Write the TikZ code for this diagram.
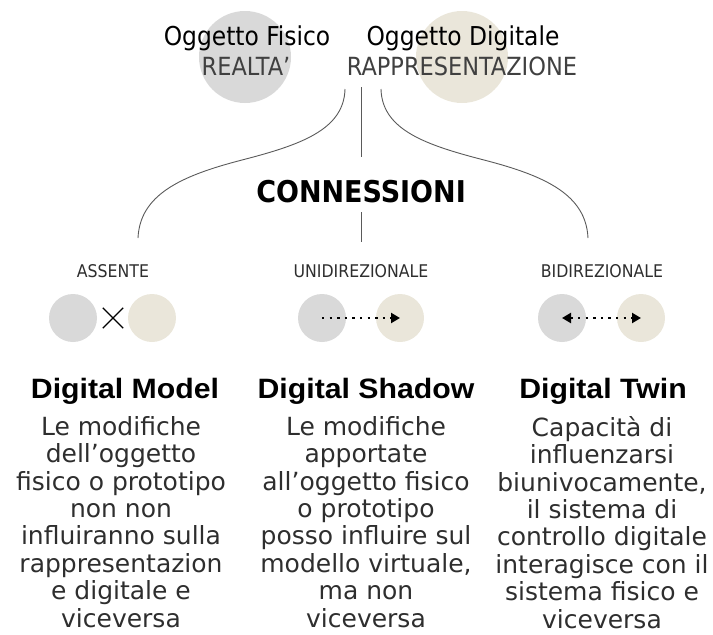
\documentclass[tikz,border=0pt]{standalone}
\usepackage{fontspec}
\setmainfont{DejaVu Sans}
\newfontfamily\condf{DejaVu Sans Condensed}
\newfontfamily\headf[FakeStretch=1.08]{Liberation Sans}
\usetikzlibrary{arrows.meta,shapes.misc}
\definecolor{cgray}{HTML}{D9D9D9}
\definecolor{cbeige}{HTML}{EAE6DA}
\definecolor{cline}{HTML}{5A5A5A}
\definecolor{ctext}{HTML}{2E2E2E}
\definecolor{csub}{HTML}{404040}
\begin{document}
\begin{tikzpicture}[x=1pt,y=-1pt,
  bigdot/.style={circle,inner sep=0pt,minimum size=92pt},
  smalldot/.style={circle,inner sep=0pt,minimum size=48pt},
  titletxt/.style={inner sep=0pt,anchor=base,text=black,font=\condf\fontsize{26}{30}\selectfont},
  subtxt/.style={inner sep=0pt,anchor=base,text=csub,font=\condf\fontsize{25}{30}\selectfont},
  labeltxt/.style={inner sep=0pt,anchor=base,text=ctext,font=\condf\fontsize{17.5}{20}\selectfont},
  bigtxt/.style={inner sep=0pt,anchor=base,text=black,font=\condf\bfseries\fontsize{30}{32}\selectfont},
  headtxt/.style={inner sep=0pt,anchor=base,text=black,font=\headf\bfseries\fontsize{28}{32}\selectfont},
  bodytxt/.style={inner sep=0pt,anchor=north,align=center,text=ctext,font=\fontsize{25}{27.4}\selectfont},
  conn/.style={draw=cline,line width=0.9pt},
  dotarrow/.style={line width=2.4pt,dash pattern=on 2.4pt off 5.2pt,arrows={-Triangle[length=9pt,width=10pt]}},
  crossmark/.style={cross out,draw=black,line width=1.4pt,inner sep=0pt,minimum width=19pt,minimum height=19pt}
]
\useasboundingbox (0,0) rectangle (713,635);
% top circles
\node[bigdot,fill=cgray] (cf) at (245,57) {};
\node[bigdot,fill=cbeige] (cd) at (462,57) {};
% top texts
\node[titletxt] (tf) at (247,45) {Oggetto Fisico};
\node[titletxt] (td) at (463,45) {Oggetto Digitale};
\node[subtxt] (sf) at (246,75) {REALTA’};
\node[subtxt] (sd) at (462,75) {RAPPRESENTAZIONE};
% connectors
\coordinate (l0) at (345,89);
\coordinate (lm) at (242,160);
\coordinate (l1) at (138,238);
\coordinate (r0) at (381,89);
\coordinate (rm) at (484,160);
\coordinate (r1) at (588,238);
\coordinate (c0) at (361,87);
\coordinate (c1) at (361,157);
\coordinate (c2) at (361,212);
\coordinate (c3) at (361,242);
\draw[conn] (l0) .. controls (344,130) and (300,145) .. (lm) .. controls (180,176) and (140,195) .. (l1);
\draw[conn] (r0) .. controls (382,130) and (426,145) .. (rm) .. controls (546,176) and (586,195) .. (r1);
\draw[conn] (c0) -- (c1);
\draw[conn] (c2) -- (c3);
\node[bigtxt] (conn) at (361,202) {CONNESSIONI};
% labels
\node[labeltxt] (la) at (113,277) {ASSENTE};
\node[labeltxt] (lu) at (361,277) {UNIDIREZIONALE};
\node[labeltxt] (lb) at (602,277) {BIDIREZIONALE};
% small circles
\node[smalldot,fill=cgray] (a1) at (73,318) {};
\node[smalldot,fill=cbeige] (a2) at (152,318) {};
\node[crossmark] (ax) at (113,318) {};
\node[smalldot,fill=cgray] (u1) at (322,318) {};
\node[smalldot,fill=cbeige] (u2) at (400,318) {};
\node[smalldot,fill=cgray] (b1) at (562,318) {};
\node[smalldot,fill=cbeige] (b2) at (641,318) {};
\draw[dotarrow] (u1.center) -- (u2.center);
\draw[dotarrow,arrows={Triangle[length=9pt,width=10pt]-Triangle[length=9pt,width=10pt]}] (b1.center) -- (b2.center);
% headings
\node[headtxt] (hm) at (125,398) {Digital Model};
\node[headtxt] (hs) at (366,398) {Digital Shadow};
\node[headtxt] (ht) at (603,398) {Digital Twin};
% bodies
\node[bodytxt] (bm) at (121,416) {Le modifiche\\dell’oggetto\\fisico o prototipo\\non non\\influiranno sulla\\rappresentazion\\e digitale e\\viceversa};
\node[bodytxt] (bs) at (366,416) {Le modifiche\\apportate\\all’oggetto fisico\\o prototipo\\posso influire sul\\modello virtuale,\\ma non\\viceversa};
\node[bodytxt] (bt) at (602,416) {Capacità di\\influenzarsi\\biunivocamente,\\il sistema di\\controllo digitale\\interagisce con il\\sistema fisico e\\viceversa};
\end{tikzpicture}
\end{document}
